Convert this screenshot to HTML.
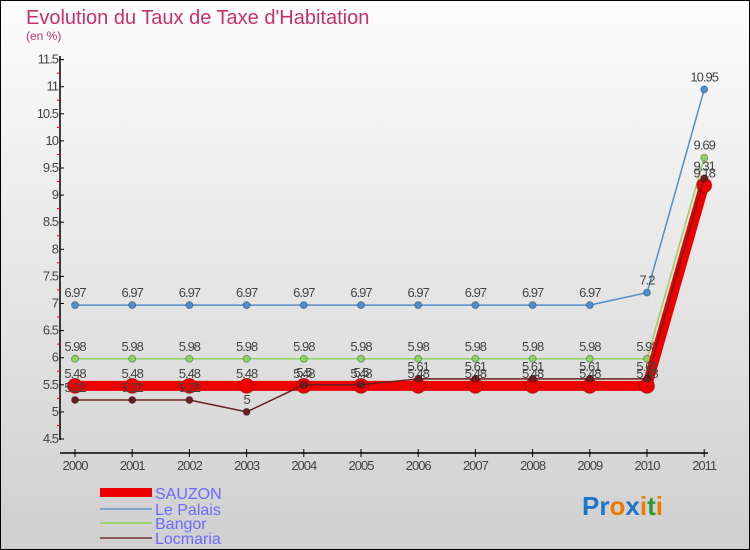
<!DOCTYPE html>
<html><head><meta charset="utf-8"><style>
body{margin:0}
svg{display:block;font-family:"Liberation Sans",sans-serif}
</style></head><body>
<svg id="c" width="750" height="550" xmlns="http://www.w3.org/2000/svg">
<defs><linearGradient id="bg" x1="0" y1="0" x2="0" y2="1"><stop offset="0" stop-color="#fdfdfd"/><stop offset="1" stop-color="#cfcfcf"/></linearGradient></defs>
<rect x="0.5" y="0.5" width="749" height="549" fill="url(#bg)" stroke="#000"/>
<text x="26" y="24" font-size="20" fill="#c8306a">Evolution du Taux de Taxe d'Habitation</text>
<text x="26" y="40" font-size="12" fill="#c8306a">(en %)</text>
<g id="axes"></g><g id="series"></g>
<g>
<rect x="100" y="488" width="52" height="9" fill="#e00"/>
<text x="155" y="499" font-size="16" fill="#6a6aff">SAUZON</text>
<rect x="100" y="508" width="52" height="2" fill="#7fa9cc"/>
<text x="155" y="515" font-size="16" fill="#6a6aff">Le Palais</text>
<rect x="100" y="522" width="52" height="2" fill="#9ed36e"/>
<text x="155" y="529" font-size="16" fill="#6a6aff">Bangor</text>
<rect x="100" y="537" width="52" height="2" fill="#8a5a5a"/>
<text x="155" y="544" font-size="16" fill="#6a6aff">Locmaria</text>
</g>
<text x="582" y="515" font-size="26" font-weight="bold"><tspan fill="#1a78c8">Pr</tspan><tspan fill="#f07a00">o</tspan><tspan fill="#1a78c8">x</tspan><tspan fill="#f07a00">i</tspan><tspan fill="#2a9a3a">t</tspan><tspan fill="#f07a00">i</tspan></text>
</svg>
<script>
const years=[2000,2001,2002,2003,2004,2005,2006,2007,2008,2009,2010,2011];
const yTicks=[4.5,5,5.5,6,6.5,7,7.5,8,8.5,9,9.5,10,10.5,11,11.5];
const sauzon=[5.48,5.48,5.48,5.48,5.48,5.48,5.48,5.48,5.48,5.48,5.48,9.18];
const lePalais=[6.97,6.97,6.97,6.97,6.97,6.97,6.97,6.97,6.97,6.97,7.2,10.95];
const bangor=[5.98,5.98,5.98,5.98,5.98,5.98,5.98,5.98,5.98,5.98,5.98,9.69];
const locmaria=[5.22,5.22,5.22,5,5.5,5.5,5.61,5.61,5.61,5.61,5.61,9.31];
const NS="http://www.w3.org/2000/svg";
const X=i=>75+i*57.2, Y=v=>439-(v-4.5)*54.2;
function mk(t,a,p){const e=document.createElementNS(NS,t);for(const k in a)e.setAttribute(k,a[k]);p.appendChild(e);return e;}
const ax=document.getElementById('axes'), sg=document.getElementById('series');
let e=mk('line',{x1:60,y1:56,x2:60,y2:440,stroke:'#000','stroke-width':1.5},ax);


e=mk('line',{x1:60,y1:453,x2:708,y2:453,stroke:'#000','stroke-width':1.5},ax);


yTicks.forEach((v,i)=>{
  mk('line',{x1:60,y1:Y(v),x2:64,y2:Y(v),stroke:'#000'},ax);
  if(i<yTicks.length-1)mk('line',{x1:57,y1:Y(v+0.25),x2:60,y2:Y(v+0.25),stroke:'#e00'},ax);
  const t=mk('text',{x:58,y:Y(v)+4,'font-size':13,'text-anchor':'end',fill:'#444','letter-spacing':'-1'},ax);
  t.textContent=String(v);
  
  
});
years.forEach((y,i)=>{
  mk('line',{x1:X(i),y1:449,x2:X(i),y2:457,stroke:'#000'},ax);
  const t=mk('text',{x:X(i),y:470,'font-size':13,'text-anchor':'middle',fill:'#444','letter-spacing':'-1'},ax);
  t.textContent=String(y);
  
  
});
function series(vals,color,w,r,name){
  const g=mk('g',{},sg);
  
  
  mk('polyline',{points:vals.map((v,i)=>X(i)+','+Y(v)).join(' '),fill:'none',stroke:color,'stroke-width':w},g);
  vals.forEach((v,i)=>{
    const c=mk('circle',{cx:X(i),cy:Y(v),r:r,fill:color,stroke:'rgba(0,0,0,0.3)'},g);
    
    
    const t=mk('text',{x:X(i),y:Y(v)-8,'font-size':13,'text-anchor':'middle',fill:'#444','letter-spacing':'-1'},g);
    t.textContent=String(v);
    
    
  });
}
series(lePalais,'#4f8fcc',1.5,3.5,'le-palais');
series(bangor,'#8fd45e',1.5,3.5,'bangor');
series(sauzon,'#ee0000',10,7.5,'sauzon');
series(locmaria,'#6b1e22',1.5,3.5,'locmaria');
</script>
</body></html>
